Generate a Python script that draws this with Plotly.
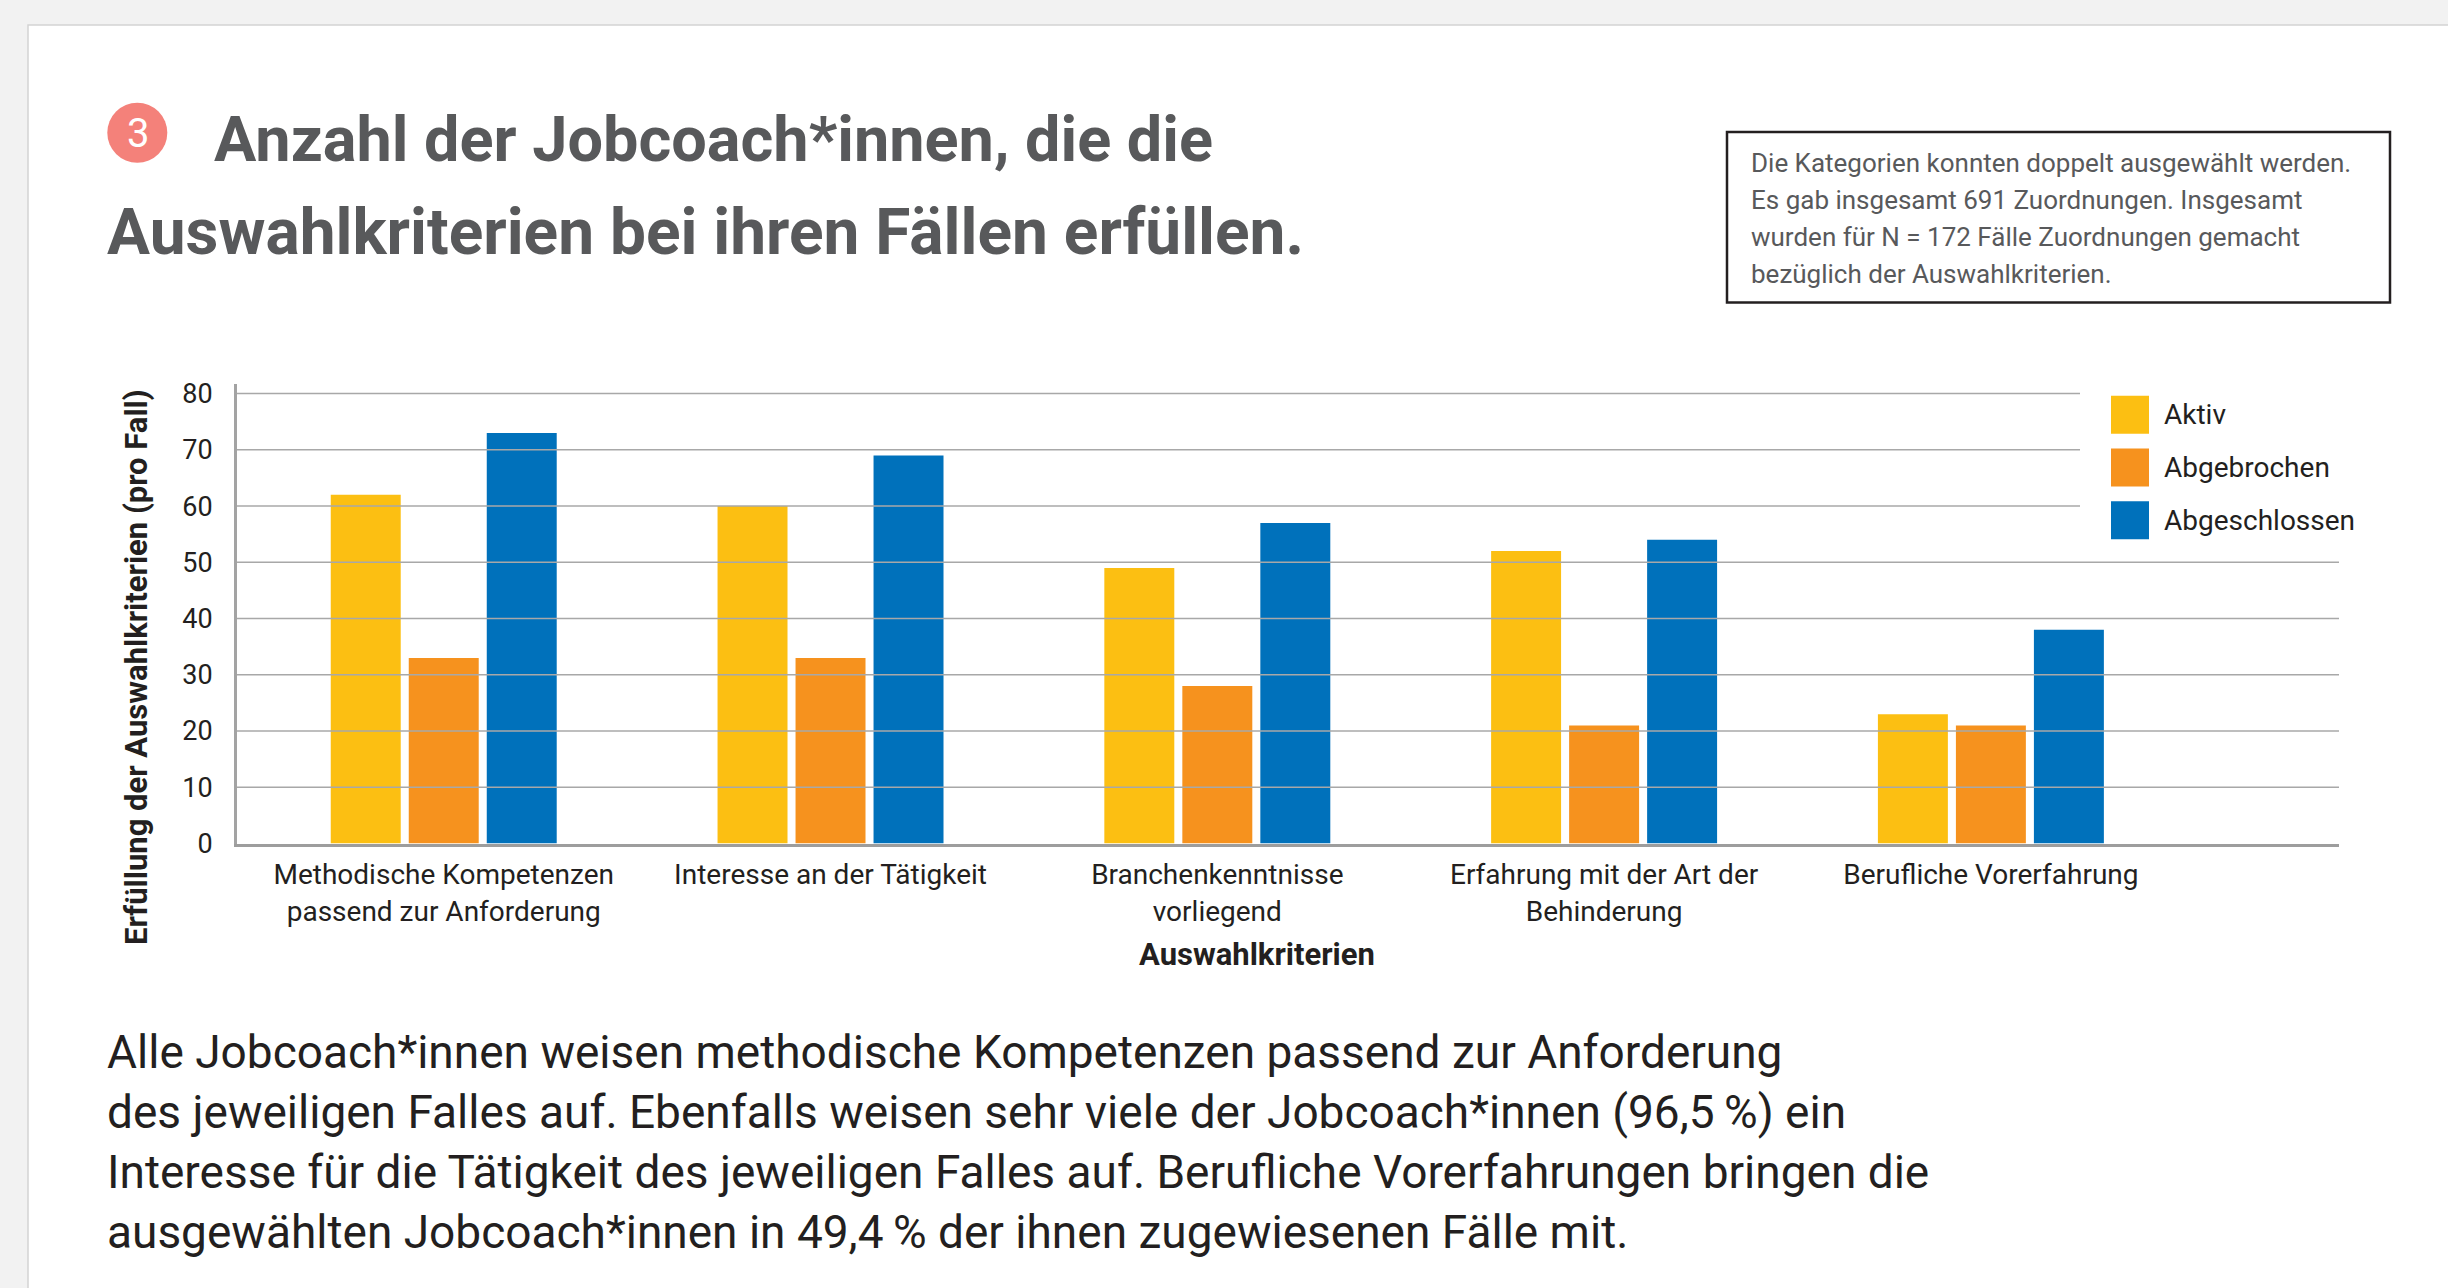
import plotly.graph_objects as go

W, H = 2448, 1288

# ── Daten ───────────────────────────────────────────────
kategorien = [
    'Methodische Kompetenzen passend zur Anforderung',
    'Interesse an der Tätigkeit',
    'Branchenkenntnisse vorliegend',
    'Erfahrung mit der Art der Behinderung',
    'Berufliche Vorerfahrung',
]
tick_labels = [
    'Methodische Kompetenzen<br>passend zur Anforderung',
    'Interesse an der Tätigkeit',
    'Branchenkenntnisse<br>vorliegend',
    'Erfahrung mit der Art der<br>Behinderung',
    'Berufliche Vorerfahrung',
]
aktiv = [62, 60, 49, 52, 23]
abgebrochen = [33, 33, 28, 21, 21]
abgeschlossen = [73, 69, 57, 54, 38]
y_ticks = [0, 10, 20, 30, 40, 50, 60, 70, 80]

serien = ['Aktiv', 'Abgebrochen', 'Abgeschlossen']
COLORS = ['#FCBF12', '#F6921E', '#0071BB']

titel = ['Anzahl der Jobcoach*innen, die die',
         'Auswahlkriterien bei ihren Fällen erfüllen.']
hinweis = ['Die Kategorien konnten doppelt ausgewählt werden.',
           'Es gab insgesamt 691 Zuordnungen. Insgesamt',
           'wurden für N = 172 Fälle Zuordnungen gemacht',
           'bezüglich der Auswahlkriterien.']
absatz = ['Alle Jobcoach*innen weisen methodische Kompetenzen passend zur Anforderung',
          'des jeweiligen Falles auf. Ebenfalls weisen sehr viele der Jobcoach*innen (96,5\u2009%) ein',
          'Interesse für die Tätigkeit des jeweiligen Falles auf. Berufliche Vorerfahrungen bringen die',
          'ausgewählten Jobcoach*innen in 49,4\u2009% der ihnen zugewiesenen Fälle mit.']

FONT = 'Roboto'
TXT = '#231f20'
GREY_TXT = '#58595b'


def px(x):
    return x / W


def py(y):
    return 1 - y / H


fig = go.Figure()
for name, vals, color in zip(serien, [aktiv, abgebrochen, abgeschlossen], COLORS):
    fig.add_trace(go.Bar(x=kategorien, y=vals, name=name,
                         marker=dict(color=color, line=dict(width=0))))

shapes = []
# Karte
shapes.append(dict(type='rect', xref='paper', yref='paper', layer='below',
                   x0=px(28), x1=px(W + 20), y0=py(H + 20), y1=py(25),
                   fillcolor='white', line=dict(color='#d4d4d4', width=1.5)))
# Gitterlinien über den Balken
for v in y_ticks[1:]:
    shapes.append(dict(type='line', xref='x domain', yref='y', layer='above',
                       x0=0, x1=1, y0=v, y1=v,
                       line=dict(color='#a8a8a8', width=1.5)))
# Legende
shapes.append(dict(type='rect', xref='paper', yref='paper', layer='above',
                   x0=px(2080), x1=px(2345), y0=py(545), y1=py(380),
                   fillcolor='white', line=dict(width=0)))
leg_y = [414.7, 467.5, 520.3]
annotations = []
for name, color, yc in zip(serien, COLORS, leg_y):
    shapes.append(dict(type='rect', xref='paper', yref='paper', layer='above',
                       x0=px(2111), x1=px(2149), y0=py(yc + 19), y1=py(yc - 19),
                       fillcolor=color, line=dict(width=0)))
    annotations.append(dict(text=name, xref='paper', yref='paper',
                            x=px(2162), y=py(yc), xanchor='left', yanchor='middle',
                            showarrow=False, font=dict(family=FONT, size=28, color=TXT)))
# Kreis mit Nummer
shapes.append(dict(type='circle', xref='paper', yref='paper',
                   x0=px(107.3), x1=px(167.3), y0=py(162.7), y1=py(102.7),
                   fillcolor='#F4817A', line=dict(width=0)))
annotations.append(dict(text='3', xref='paper', yref='paper', x=px(137.5), y=py(133),
                        xanchor='center', yanchor='middle', showarrow=False,
                        font=dict(family=FONT, size=40, color='white')))
# Hinweisbox
shapes.append(dict(type='rect', xref='paper', yref='paper',
                   x0=px(1727), x1=px(2390), y0=py(302.5), y1=py(132),
                   fillcolor='white', line=dict(color='#231f20', width=2.5)))

# Titel
for line, x0, yc, size in zip(titel, [212, 105], [139, 232], [63, 64]):
    annotations.append(dict(text=line, xref='paper', yref='paper', x=px(x0), y=py(yc),
                            xanchor='left', yanchor='middle', showarrow=False,
                            font=dict(family=FONT, size=size, color=GREY_TXT, weight=700)))
for i, line in enumerate(hinweis):
    annotations.append(dict(text=line, xref='paper', yref='paper', x=px(1749),
                            y=py(162.7 + 37.1 * i), xanchor='left', yanchor='middle',
                            showarrow=False,
                            font=dict(family=FONT, size=26, color=GREY_TXT)))
for i, line in enumerate(absatz):
    annotations.append(dict(text=line, xref='paper', yref='paper', x=px(105),
                            y=py(1052 + 60 * i), xanchor='left', yanchor='middle',
                            showarrow=False,
                            font=dict(family=FONT, size=46, color=TXT)))
# Achsentitel
annotations.append(dict(text='Erfüllung der Auswahlkriterien (pro Fall)', xref='paper',
                        yref='paper', x=px(136), y=py(667), textangle=-90,
                        xanchor='center', yanchor='middle', showarrow=False,
                        font=dict(family=FONT, size=31, color=TXT, weight=700)))
annotations.append(dict(text='Auswahlkriterien', xref='paper', yref='paper',
                        x=px(1257), y=py(954), xanchor='center', yanchor='middle',
                        showarrow=False,
                        font=dict(family=FONT, size=31, color=TXT, weight=700)))

fig.update_layout(
    width=W, height=H, margin=dict(l=0, r=0, t=0, b=0),
    paper_bgcolor='#f2f2f2', plot_bgcolor='rgba(0,0,0,0)',
    showlegend=False, barmode='group', bargap=0.395, bargroupgap=0.103,
    font=dict(family=FONT, color=TXT),
    xaxis=dict(domain=[px(237), px(2339)], range=[-0.5345, 4.9],
               tickvals=kategorien, ticktext=tick_labels, ticks='',
               tickfont=dict(size=28, color=TXT), ticklabelstandoff=4,
               showgrid=False, showline=True, linecolor='#9d9d9d', linewidth=3,
               layer='above traces', zeroline=False, automargin=False),
    yaxis=dict(domain=[py(843.5), py(383.5)], range=[0, 81.8],
               tickvals=y_ticks, ticks='', tickfont=dict(size=27, color=TXT),
               ticklabelstandoff=16, showgrid=False, showline=True,
               linecolor='#a3a3a3', linewidth=3, zeroline=False, automargin=False),
    shapes=shapes, annotations=annotations,
)

fig.write_html('out.html', config={'displayModeBar': False})

# Browser-Rand entfernen, damit die Pixelpositionen stimmen
with open('out.html', encoding='utf-8') as f:
    html = f.read()
html = html.replace('<body>', '<body style="margin:0;overflow:hidden">', 1)
with open('out.html', 'w', encoding='utf-8') as f:
    f.write(html)
